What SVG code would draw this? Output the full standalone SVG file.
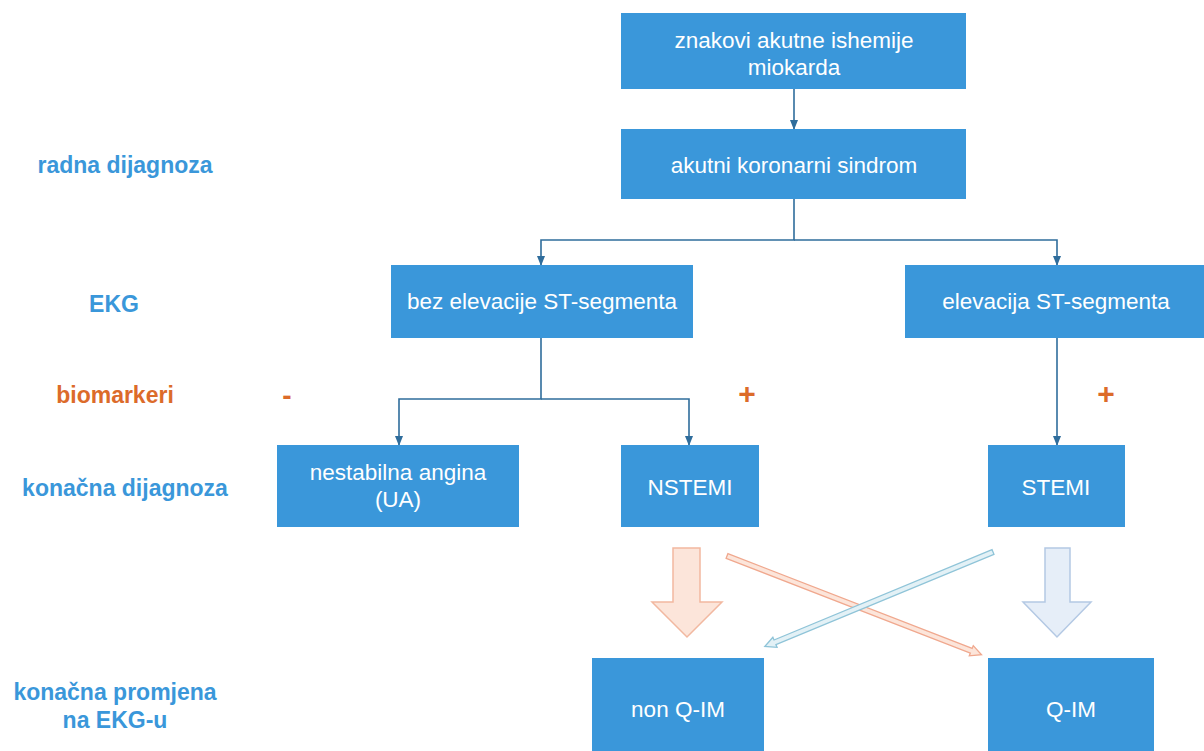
<svg xmlns="http://www.w3.org/2000/svg" width="1204" height="751" viewBox="0 0 1204 751">
<style>
.box{fill:#3a97da}
.bt{font-family:"Liberation Sans",Arial,sans-serif;font-size:22.5px;fill:#ffffff;text-anchor:middle}
.lab{font-family:"Liberation Sans",Arial,sans-serif;font-size:23px;font-weight:bold;fill:#3a97da;text-anchor:middle}
.org{fill:#dc6b2a}
.con{fill:none;stroke:#2f6d9c;stroke-width:1.6}
</style>
<defs>
<marker id="ah" markerWidth="10" markerHeight="8" refX="9" refY="4" orient="auto" markerUnits="userSpaceOnUse">
<path d="M0,0 L10,4 L0,8 z" fill="#2f6d9c"/>
</marker>
</defs>
<rect width="1204" height="751" fill="#ffffff"/>
<g id="labels">
<text class="lab" x="125" y="173">radna dijagnoza</text>
<text class="lab" x="114" y="312">EKG</text>
<text class="lab org" x="115" y="403">biomarkeri</text>
<text class="lab" x="125" y="496">konačna dijagnoza</text>
<text class="lab" x="115" y="700">konačna promjena</text>
<text class="lab" x="115" y="728">na EKG-u</text>
<text class="lab org" x="287" y="405" style="font-size:28px">-</text>
<text class="lab org" x="747" y="404" style="font-size:30px">+</text>
<text class="lab org" x="1106" y="404" style="font-size:30px">+</text>
</g>
<g id="connectors">
<line class="con" x1="794" y1="89" x2="794" y2="129" marker-end="url(#ah)"/>
<path class="con" d="M794,199 V240 H541 V265" marker-end="url(#ah)"/>
<path class="con" d="M794,240 H1057 V265" marker-end="url(#ah)"/>
<path class="con" d="M541,338 V399 H399 V445" marker-end="url(#ah)"/>
<path class="con" d="M541,399 H689 V445" marker-end="url(#ah)"/>
<line class="con" x1="1057" y1="338" x2="1057" y2="445" marker-end="url(#ah)"/>
<path d="M673,548 H700 V602 H722 L687,637 L652,602 H673 Z" fill="#fce5da" stroke="#f2b8a0" stroke-width="1.5"/>
<path d="M1045,548 H1070 V602 H1091 L1057,637 L1023,602 H1045 Z" fill="#e6eef8" stroke="#b4c9e4" stroke-width="1.5"/>
<g transform="translate(727,556) rotate(21.2)">
<path d="M0,-2.5 H262 V-5.5 L273,0 L262,5.5 V2.5 H0 Z" fill="#fce5da" stroke="#f0a88e" stroke-width="1.3"/>
</g>
<g transform="translate(993,552) rotate(157.5)">
<path d="M0,-2.5 H236 V-5.5 L247,0 L236,5.5 V2.5 H0 Z" fill="#e3f1f6" stroke="#8fc4d8" stroke-width="1.3"/>
</g>
</g>
<g id="n1"><rect class="box" x="621" y="13" width="345" height="76"/><text class="bt" x="794" y="48">znakovi akutne ishemije</text><text class="bt" x="794" y="75">miokarda</text></g>
<g id="n2"><rect class="box" x="621" y="129" width="345" height="70"/><text class="bt" x="794" y="173">akutni koronarni sindrom</text></g>
<g id="n3"><rect class="box" x="391" y="265" width="302" height="73"/><text class="bt" x="542" y="309">bez elevacije ST-segmenta</text></g>
<g id="n4"><rect class="box" x="905" y="265" width="299" height="73"/><text class="bt" x="1056" y="309">elevacija ST-segmenta</text></g>
<g id="n5"><rect class="box" x="277" y="445" width="242" height="82"/><text class="bt" x="398" y="480">nestabilna angina</text><text class="bt" x="398" y="507">(UA)</text></g>
<g id="n6"><rect class="box" x="621" y="445" width="138" height="82"/><text class="bt" x="690" y="495">NSTEMI</text></g>
<g id="n7"><rect class="box" x="988" y="445" width="137" height="82"/><text class="bt" x="1056" y="495">STEMI</text></g>
<g id="n8"><rect class="box" x="592" y="658" width="172" height="93"/><text class="bt" x="678" y="717">non Q-IM</text></g>
<g id="n9"><rect class="box" x="988" y="658" width="166" height="93"/><text class="bt" x="1071" y="717">Q-IM</text></g>
</svg>
